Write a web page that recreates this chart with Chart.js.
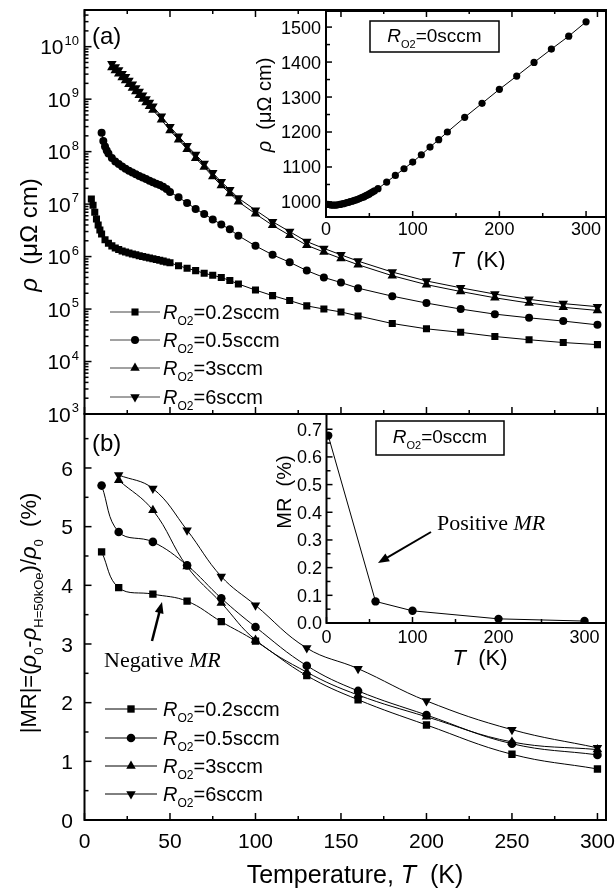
<!DOCTYPE html>
<html>
<head>
<meta charset="utf-8">
<title>Resistivity and magnetoresistance vs temperature</title>
<script src="https://cdn.jsdelivr.net/npm/chart.js@4.4.1/dist/chart.umd.min.js"></script>
<style>
  html, body { margin: 0; padding: 0; background: #fff; }
  #page { position: relative; width: 615px; height: 889px; overflow: hidden; }
  #page canvas { position: absolute; }
</style>
</head>
<body>
<div id="page">
  <canvas id="mainA" width="615" height="430" style="left:0px;top:0px"></canvas>
  <canvas id="mainB" width="615" height="485" style="left:0px;top:404px"></canvas>
  <canvas id="insetA" width="385" height="270" style="left:230px;top:0px"></canvas>
  <canvas id="insetB" width="385" height="275" style="left:230px;top:404px"></canvas>
</div>
<script>
const SANS = '"Liberation Sans", Arial, Helvetica, sans-serif';
const SERIF = '"Liberation Serif", "Times New Roman", serif';

// ---- panel (a): resistivity (uOhm cm), log scale ----
const tA02 = [4, 5, 6, 7, 8, 9, 10, 12, 14, 16, 18, 20, 22, 24, 26, 28, 30, 32, 34, 36, 38, 40, 42, 44, 46, 48, 50,
  55, 60, 65, 70, 75, 80, 85, 90, 100, 110, 120, 130, 140, 150, 160, 180, 200, 220, 240, 260, 280, 300];
const rhoA02 = [1.25e7, 9.5e6, 7.0e6, 5.2e6, 4.0e6, 3.2e6, 2.7e6, 2.1e6, 1.8e6, 1.6e6, 1.46e6, 1.36e6, 1.28e6, 1.22e6,
  1.17e6, 1.12e6, 1.08e6, 1.04e6, 1.0e6, 9.7e5, 9.4e5, 9.1e5, 8.8e5, 8.5e5, 8.2e5, 7.9e5, 7.6e5,
  6.7e5, 6.0e5, 5.4e5, 4.8e5, 4.4e5, 4.0e5, 3.5e5, 3.0e5, 2.3e5, 1.8e5, 1.45e5, 1.15e5, 1.0e5, 8.8e4, 7.4e4,
  5.3e4, 4.2e4, 3.6e4, 3.0e4, 2.6e4, 2.3e4, 2.1e4];

const tA05 = [10, 11, 12, 13, 14, 16, 18, 20, 22, 24, 26, 28, 30, 32, 34, 36, 38, 40, 42, 44, 46, 48,
  50, 55, 60, 65, 70, 75, 80, 85, 90, 100, 110, 120, 130, 140, 150, 160, 180, 200, 220, 240, 260, 280, 300];
const rhoA05 = [2.3e8, 1.6e8, 1.25e8, 1.05e8, 9.2e7, 7.6e7, 6.5e7, 5.8e7, 5.2e7, 4.7e7, 4.3e7, 4.0e7, 3.7e7, 3.45e7,
  3.2e7, 3.0e7, 2.8e7, 2.6e7, 2.45e7, 2.3e7, 2.15e7, 1.95e7,
  1.7e7, 1.35e7, 1.05e7, 8.1e6, 6.5e6, 5.1e6, 4.1e6, 3.3e6, 2.5e6, 1.6e6, 1.08e6, 7.8e5, 5.4e5, 4.0e5, 3.2e5, 2.5e5,
  1.76e5, 1.3e5, 1.0e5, 8.0e4, 6.8e4, 5.9e4, 5.0e4];

const tA36 = [16, 18, 20, 22, 24, 26, 28, 30, 32, 34, 36, 38, 40, 45, 50, 55, 60, 65, 70, 75, 80, 85, 90,
  100, 110, 120, 130, 140, 150, 160, 180, 200, 220, 240, 260, 280, 300];
const rhoA3 = [4.03e9, 3.51e9, 3.05e9, 2.6e9, 2.26e9, 1.93e9, 1.64e9, 1.40e9, 1.19e9, 1.01e9, 8.6e8, 7.3e8, 6.2e8,
  4.03e8, 2.54e8, 1.68e8, 1.11e8, 7.5e7, 5.07e7, 3.35e7, 2.26e7, 1.6e7, 1.11e7,
  6.53e6, 3.94e6, 2.54e6, 1.64e6, 1.22e6, 9.2e5, 7.0e5, 4.32e5, 2.92e5, 2.16e5, 1.64e5, 1.3e5, 1.08e5, 9.4e4];
const rhoA6 = [4.73e9, 4.12e9, 3.59e9, 3.05e9, 2.66e9, 2.26e9, 1.93e9, 1.64e9, 1.40e9, 1.19e9, 1.01e9, 8.6e8, 7.3e8,
  4.73e8, 2.99e8, 1.97e8, 1.30e8, 8.8e7, 5.96e7, 3.94e7, 2.66e7, 1.88e7, 1.30e7,
  7.67e6, 4.62e6, 2.99e6, 1.93e6, 1.43e6, 1.08e6, 8.2e5, 5.07e5, 3.43e5, 2.54e5, 1.93e5, 1.53e5, 1.27e5, 1.11e5];

// inset (a): R_O2 = 0 sccm
const tInA = [2, 4, 6, 8, 10, 12, 14, 16, 18, 20, 22, 24, 26, 28, 30, 32, 34, 36, 38, 40, 42, 44, 46, 48, 50, 52, 54, 56,
  60, 70, 80, 90, 100, 110, 120, 130, 140, 160, 180, 200, 220, 240, 260, 280, 300];
const rhoInA = [993, 992, 991, 991, 991, 991, 992, 993, 994, 995, 996, 998, 999, 1001, 1002, 1004, 1005, 1007, 1009,
  1011, 1013, 1015, 1018, 1020, 1023, 1026, 1029, 1032,
  1038, 1057, 1076, 1095, 1114, 1135, 1157, 1178, 1200, 1242, 1282, 1322, 1360, 1399, 1437, 1474, 1515];

// ---- panel (b): |MR| (%) ----
const tMR = [10, 20, 40, 60, 80, 100, 130, 160, 200, 250, 300];
const mr02 = [4.57, 3.96, 3.85, 3.73, 3.38, 3.05, 2.46, 2.05, 1.62, 1.12, 0.87];
const mr05 = [5.70, 4.91, 4.74, 4.34, 3.78, 3.29, 2.63, 2.20, 1.79, 1.30, 1.11];
const mr3 = [null, 5.79, 5.28, 4.32, 3.70, 3.07, 2.52, 2.13, 1.76, 1.33, 1.20];
const mr6 = [null, 5.88, 5.65, 4.94, 4.15, 3.66, 2.93, 2.58, 2.03, 1.54, 1.23];

// inset (b): R_O2 = 0 sccm
const tInB = [2, 57, 100, 200, 300];
const mrInB = [0.677, 0.078, 0.044, 0.015, 0.007];

// tick values
const tempTicks = [0, 50, 100, 150, 200, 250, 300];
const tempMinor = [25, 75, 125, 175, 225, 275];
const rhoDecades = [1e3, 1e4, 1e5, 1e6, 1e7, 1e8, 1e9, 1e10];
const mrTicks = [0, 1, 2, 3, 4, 5, 6];
const mrMinor = [0.5, 1.5, 2.5, 3.5, 4.5, 5.5, 6.5];
const insetT = [0, 100, 200, 300];
const insetTMinor = [50, 150, 250];
const insetRho = [1000, 1100, 1200, 1300, 1400, 1500];
const insetRhoMinor = [1050, 1150, 1250, 1350, 1450];
const insetMr = [0, 0.1, 0.2, 0.3, 0.4, 0.5, 0.6, 0.7];
const insetMrMinor = [0.05, 0.15, 0.25, 0.35, 0.45, 0.55, 0.65];

const seriesNames = ['0.2sccm', '0.5sccm', '3sccm', '6sccm'];

function pts(xs, ys) {
  return xs.map((x, i) => ({ x: x, y: ys[i] })).filter(p => p.y !== null);
}

function series(label, xs, ys, style, r, rot, tension) {
  return {
    label: label, data: pts(xs, ys),
    borderColor: '#000', borderWidth: 1, backgroundColor: '#000',
    pointStyle: style, pointRadius: r, pointRotation: rot || 0,
    pointBackgroundColor: '#000', pointBorderColor: '#000', pointBorderWidth: 0,
    tension: tension || 0, fill: false
  };
}

// text with italic / sub / superscript pieces; (x, y) is the middle of the text line
function rich(ctx, parts, x, y, opt) {
  const size = opt.size, fam = opt.family || SANS;
  const fontOf = p => (p.i ? 'italic ' : '') + Math.round(size * (p.sub || p.sup ? 0.6 : 1)) + 'px ' + fam;
  let total = 0;
  const widths = parts.map(p => { ctx.font = fontOf(p); const w = ctx.measureText(p.t).width; total += w; return w; });
  ctx.save();
  ctx.translate(x, y);
  if (opt.rotate) ctx.rotate(-Math.PI / 2);
  let cx = opt.align === 'center' ? -total / 2 : (opt.align === 'right' ? -total : 0);
  ctx.textBaseline = 'alphabetic';
  ctx.textAlign = 'left';
  ctx.fillStyle = '#000';
  parts.forEach((p, k) => {
    ctx.font = fontOf(p);
    const dy = p.sub ? size * 0.3 : (p.sup ? -size * 0.45 : 0);
    ctx.fillText(p.t, cx, size * 0.36 + dy);
    cx += widths[k];
  });
  ctx.restore();
}

function marker(ctx, style, x, y, r, rot) {
  ctx.fillStyle = '#000';
  ctx.strokeStyle = '#000';
  Chart.helpers.drawPoint(ctx, { pointStyle: style, radius: r, rotation: rot || 0, borderWidth: 0 }, x, y);
}

function arrow(ctx, x1, y1, x2, y2, head, lw) {
  const a = Math.atan2(y2 - y1, x2 - x1);
  ctx.save();
  ctx.strokeStyle = '#000'; ctx.fillStyle = '#000'; ctx.lineWidth = lw;
  ctx.beginPath();
  ctx.moveTo(x1, y1);
  ctx.lineTo(x2 - Math.cos(a) * head * 0.8, y2 - Math.sin(a) * head * 0.8);
  ctx.stroke();
  ctx.beginPath();
  ctx.moveTo(x2, y2);
  ctx.lineTo(x2 - head * Math.cos(a - 0.38), y2 - head * Math.sin(a - 0.38));
  ctx.lineTo(x2 - head * Math.cos(a + 0.38), y2 - head * Math.sin(a + 0.38));
  ctx.closePath();
  ctx.fill();
  ctx.restore();
}

function legendRows(ctx, x0, x1, tx, rows, styles, lineColor) {
  styles.forEach((s, i) => {
    const y = rows[i];
    ctx.strokeStyle = lineColor; ctx.lineWidth = 1;
    ctx.beginPath(); ctx.moveTo(x0, y); ctx.lineTo(x1, y); ctx.stroke();
    marker(ctx, s[0], (x0 + x1) / 2, y, s[1], s[2]);
    rich(ctx, [{ t: 'R', i: true }, { t: 'O2', sub: true }, { t: '=' + seriesNames[i] }], tx, y, { size: 20 });
  });
}

// tick labels placed through the chart's own scales (page coordinates)
function xLabels(ctx, px, vals, y, size, fmt) {
  ctx.font = size + 'px ' + SANS; ctx.fillStyle = '#000';
  ctx.textAlign = 'center'; ctx.textBaseline = 'alphabetic';
  vals.forEach(v => ctx.fillText(fmt(v), px('x', v), y + size * 0.36));
}
function yLabels(ctx, px, vals, x, size, fmt) {
  ctx.font = size + 'px ' + SANS; ctx.fillStyle = '#000';
  ctx.textAlign = 'right'; ctx.textBaseline = 'alphabetic';
  vals.forEach(v => ctx.fillText(fmt(v), x, px('y', v) + size * 0.36));
}

// frame round the plot area, inward tick marks
function framePlugin(cfg) {
  return {
    id: 'frame',
    afterDatasetsDraw(chart) {
      const ctx = chart.ctx, a = chart.chartArea, sx = chart.scales.x, sy = chart.scales.y;
      ctx.save();
      ctx.strokeStyle = '#000';
      ctx.lineWidth = 1.5;
      const xs = (vals, len) => vals.forEach(v => {
        const p = sx.getPixelForValue(v);
        (cfg.xSides || ['bottom']).forEach(side => {
          ctx.beginPath();
          if (side === 'bottom') { ctx.moveTo(p, a.bottom); ctx.lineTo(p, a.bottom - len); }
          else { ctx.moveTo(p, a.top); ctx.lineTo(p, a.top + len); }
          ctx.stroke();
        });
      });
      const ys = (vals, len) => vals.forEach(v => {
        const p = sy.getPixelForValue(v);
        if (p < a.top - 0.5 || p > a.bottom + 0.5) return;
        ctx.beginPath(); ctx.moveTo(a.left, p); ctx.lineTo(a.left + len, p); ctx.stroke();
      });
      xs(cfg.xMajor, cfg.majorLen); xs(cfg.xMinor, cfg.minorLen);
      ys(cfg.yMajor, cfg.majorLen); ys(cfg.yMinor, cfg.minorLen);
      ctx.lineWidth = 2;
      ctx.strokeRect(a.left, a.top, a.right - a.left, a.bottom - a.top);
      ctx.restore();
    }
  };
}

function decoPlugin(offX, offY, draw) {
  return {
    id: 'deco',
    afterDraw(chart) {
      const ctx = chart.ctx;
      const px = (axis, v) => chart.scales[axis].getPixelForValue(v) + (axis === 'x' ? offX : offY);
      ctx.save();
      ctx.translate(-offX, -offY);
      draw(ctx, px);
      ctx.restore();
    }
  };
}

function opts(padding, x, y) {
  return {
    responsive: false, animation: false, events: [], devicePixelRatio: 1,
    layout: { padding: padding },
    plugins: { legend: { display: false }, tooltip: { enabled: false } },
    scales: { x: Object.assign({ type: 'linear', display: false }, x), y: Object.assign({ type: 'linear', display: false }, y) }
  };
}

const num = v => String(v);

// ---------- panel (a) ----------
const logMinor = [];
rhoDecades.forEach(d => { for (let m = 2; m <= 9; m++) if (d * m <= 5e10) logMinor.push(d * m); });

new Chart(document.getElementById('mainA'), {
  type: 'line',
  data: { datasets: [
    series(seriesNames[0], tA02, rhoA02, 'rect', 5, 0),
    series(seriesNames[1], tA05, rhoA05, 'circle', 4, 0),
    series(seriesNames[2], tA36, rhoA3, 'triangle', 5.5, 0),
    series(seriesNames[3], tA36, rhoA6, 'triangle', 5.5, 180)
  ] },
  options: opts({ left: 84.5, right: 9, top: 10, bottom: 16 },
    { min: 0, max: 305 }, { type: 'logarithmic', min: 1e3, max: 5e10 }),
  plugins: [
    framePlugin({ xMajor: tempTicks, xMinor: tempMinor, yMajor: rhoDecades, yMinor: logMinor,
      xSides: ['bottom', 'top'], majorLen: 7, minorLen: 4 }),
    decoPlugin(0, 0, (ctx, px) => {
      rhoDecades.forEach(v => {
        const p = px('y', v);
        const e = String(Math.round(Math.log10(v)));
        ctx.font = '21px ' + SANS;
        const w10 = ctx.measureText('10').width;
        ctx.font = '13px ' + SANS;
        const we = ctx.measureText(e).width;
        ctx.fillStyle = '#000'; ctx.textAlign = 'left'; ctx.textBaseline = 'alphabetic';
        ctx.font = '21px ' + SANS;
        ctx.fillText('10', 79 - we - w10 - 1, p + 7.5);
        ctx.font = '13px ' + SANS;
        ctx.fillText(e, 79 - we, p - 2);
      });
      rich(ctx, [{ t: '(a)' }], 92, 35, { size: 24 });
      rich(ctx, [{ t: 'ρ', i: true }, { t: '  (μΩ cm)' }], 28, 235, { size: 24, rotate: true, align: 'center' });
      legendRows(ctx, 110, 160, 163, [312, 340, 368, 397],
        [['rect', 5, 0], ['circle', 4, 0], ['triangle', 5.5, 0], ['triangle', 5.5, 180]], '#444');
    })
  ]
});

// ---------- panel (b) ----------
new Chart(document.getElementById('mainB'), {
  type: 'line',
  data: { datasets: [
    series(seriesNames[0], tMR, mr02, 'rect', 5.2, 0, 0.4),
    series(seriesNames[1], tMR, mr05, 'circle', 4.3, 0, 0.4),
    series(seriesNames[2], tMR, mr3, 'triangle', 5.5, 0, 0.4),
    series(seriesNames[3], tMR, mr6, 'triangle', 5.5, 180, 0.4)
  ] },
  options: opts({ left: 84.5, right: 9, top: 10, bottom: 69 }, { min: 0, max: 305 }, { min: 0, max: 6.92 }),
  plugins: [
    framePlugin({ xMajor: tempTicks, xMinor: tempMinor, yMajor: mrTicks, yMinor: mrMinor,
      xSides: ['bottom'], majorLen: 7, minorLen: 4 }),
    decoPlugin(0, 404, (ctx, px) => {
      xLabels(ctx, px, tempTicks, 840, 21, num);
      yLabels(ctx, px, mrTicks, 73, 21, num);
      rich(ctx, [{ t: '(b)' }], 92, 442, { size: 24 });
      rich(ctx, [{ t: '|MR|=(' }, { t: 'ρ', i: true }, { t: '0', sub: true }, { t: '-' }, { t: 'ρ', i: true },
        { t: 'H=50kOe', sub: true }, { t: ')/' }, { t: 'ρ', i: true }, { t: '0', sub: true }, { t: '  (%)' }],
        28, 613, { size: 22, rotate: true, align: 'center' });
      rich(ctx, [{ t: 'Temperature, ' }, { t: 'T', i: true }, { t: '  (K)' }], 355, 874, { size: 25, align: 'center' });
      legendRows(ctx, 105, 157, 163, [709, 738, 766, 794],
        [['rect', 5.2, 0], ['circle', 4.3, 0], ['triangle', 5.5, 0], ['triangle', 5.5, 180]], '#000');
      rich(ctx, [{ t: 'Negative ' }, { t: 'MR', i: true }], 104, 659, { size: 22, family: SERIF });
      arrow(ctx, 152, 641, 162, 602, 12, 2.5);
    })
  ]
});

// ---------- inset (a) ----------
new Chart(document.getElementById('insetA'), {
  type: 'line',
  data: { datasets: [series('0sccm', tInA, rhoInA, 'circle', 3.6, 0)] },
  options: opts({ left: 96, right: 9, top: 11, bottom: 53 }, { min: 0, max: 323 }, { min: 957, max: 1546 }),
  plugins: [
    framePlugin({ xMajor: insetT, xMinor: insetTMinor, yMajor: insetRho, yMinor: insetRhoMinor,
      xSides: ['bottom'], majorLen: 6, minorLen: 4 }),
    decoPlugin(230, 0, (ctx, px) => {
      xLabels(ctx, px, insetT, 229, 18, num);
      yLabels(ctx, px, insetRho, 321, 18, num);
      ctx.strokeStyle = '#000'; ctx.lineWidth = 1.5;
      ctx.strokeRect(370, 21, 129, 31);
      rich(ctx, [{ t: 'R', i: true }, { t: 'O2', sub: true }, { t: '=0sccm' }], 434.5, 35, { size: 19, align: 'center' });
      rich(ctx, [{ t: 'ρ', i: true }, { t: '  (μΩ cm)' }], 264, 105, { size: 20, rotate: true, align: 'center' });
      rich(ctx, [{ t: 'T', i: true }, { t: '  (K)' }], 478, 259, { size: 22, align: 'center' });
    })
  ]
});

// ---------- inset (b) ----------
new Chart(document.getElementById('insetB'), {
  type: 'line',
  data: { datasets: [series('0sccm', tInB, mrInB, 'circle', 4.2, 0)] },
  options: opts({ left: 96.5, right: 9, top: 10, bottom: 56 }, { min: 0, max: 325 }, { min: 0, max: 0.755 }),
  plugins: [
    framePlugin({ xMajor: insetT, xMinor: insetTMinor, yMajor: insetMr, yMinor: insetMrMinor,
      xSides: ['bottom'], majorLen: 6, minorLen: 4 }),
    decoPlugin(230, 404, (ctx, px) => {
      xLabels(ctx, px, insetT, 637, 18, num);
      yLabels(ctx, px, insetMr, 322, 18, v => v.toFixed(1));
      ctx.strokeStyle = '#000'; ctx.lineWidth = 1.5;
      ctx.strokeRect(376, 421, 128, 34);
      rich(ctx, [{ t: 'R', i: true }, { t: 'O2', sub: true }, { t: '=0sccm' }], 440, 436, { size: 19, align: 'center' });
      rich(ctx, [{ t: 'MR  (%)' }], 284, 492, { size: 20, rotate: true, align: 'center' });
      rich(ctx, [{ t: 'T', i: true }, { t: '  (K)' }], 480, 657, { size: 22, align: 'center' });
      rich(ctx, [{ t: 'Positive ' }, { t: 'MR', i: true }], 437, 522, { size: 22, family: SERIF });
      arrow(ctx, 431, 532, 378, 563, 12, 2);
    })
  ]
});
</script>
</body>
</html>
